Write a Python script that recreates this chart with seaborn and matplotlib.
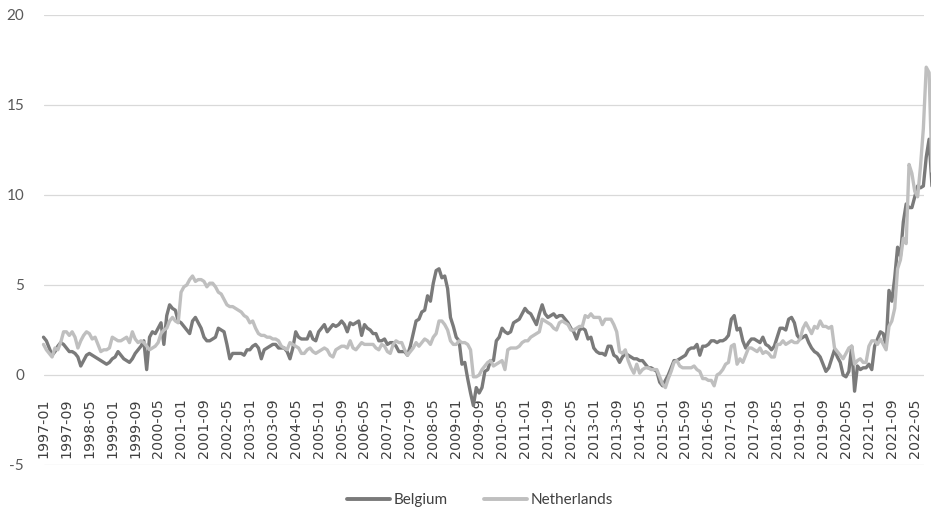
import matplotlib
matplotlib.use("Agg")
import matplotlib.pyplot as plt
import pandas as pd
import seaborn as sns

# monthly annual inflation (%), 1997-01 .. 2022-11, one row per year
belgium = [
    2.1, 1.9, 1.5, 1.1, 1.3, 1.6, 1.8, 1.7, 1.5, 1.3, 1.3, 1.2,
    1.0, 0.5, 0.8, 1.1, 1.2, 1.1, 1.0, 0.9, 0.8, 0.7, 0.6, 0.7,
    0.9, 1.0, 1.3, 1.1, 0.9, 0.8, 0.7, 0.9, 1.2, 1.4, 1.6, 1.9,
    0.3, 2.1, 2.4, 2.3, 2.6, 2.9, 1.7, 3.3, 3.9, 3.7, 3.6, 3.0,
    2.9, 2.7, 2.5, 2.3, 3.0, 3.2, 2.9, 2.6, 2.1, 1.9, 1.9, 2.0,
    2.1, 2.6, 2.5, 2.4, 1.7, 0.9, 1.2, 1.2, 1.2, 1.2, 1.1, 1.4,
    1.4, 1.6, 1.7, 1.5, 0.9, 1.4, 1.5, 1.6, 1.7, 1.7, 1.5, 1.5,
    1.5, 1.3, 0.9, 1.5, 2.4, 2.1, 2.0, 2.0, 2.0, 2.4, 2.0, 1.9,
    2.4, 2.6, 2.8, 2.4, 2.6, 2.8, 2.7, 2.8, 3.0, 2.8, 2.4, 2.9,
    2.8, 2.9, 3.0, 2.2, 2.8, 2.6, 2.5, 2.3, 2.3, 1.9, 1.9, 2.0,
    1.7, 1.8, 1.8, 1.6, 1.3, 1.3, 1.3, 1.1, 1.6, 2.3, 3.0, 3.1,
    3.5, 3.6, 4.4, 4.1, 5.1, 5.8, 5.9, 5.4, 5.5, 4.8, 3.2, 2.7,
    2.1, 1.9, 0.6, 0.7, -0.2, -1.0, -1.7, -0.7, -1.0, -0.7, 0.2, 0.3,
    0.8, 0.8, 1.9, 2.1, 2.6, 2.4, 2.3, 2.4, 2.9, 3.0, 3.1, 3.4,
    3.7, 3.5, 3.4, 3.1, 2.8, 3.4, 3.9, 3.4, 3.2, 3.3, 3.4, 3.2,
    3.3, 3.3, 3.1, 2.9, 2.6, 2.4, 2.0, 2.5, 2.6, 2.5, 2.0, 2.1,
    1.5, 1.3, 1.2, 1.2, 1.1, 1.6, 1.6, 1.1, 1.0, 0.7, 1.0, 1.2,
    1.1, 1.0, 0.9, 0.9, 0.8, 0.8, 0.6, 0.4, 0.4, 0.3, 0.2, -0.4,
    -0.6, -0.3, 0.0, 0.4, 0.8, 0.8, 0.9, 1.0, 1.1, 1.4, 1.5, 1.5,
    1.7, 1.1, 1.6, 1.6, 1.7, 1.9, 1.9, 1.8, 1.9, 1.9, 2.0, 2.2,
    3.1, 3.3, 2.5, 2.6, 1.9, 1.5, 1.8, 2.0, 2.0, 1.9, 1.8, 2.1,
    1.7, 1.6, 1.4, 1.6, 2.1, 2.6, 2.6, 2.5, 3.1, 3.2, 2.9, 2.2,
    2.0, 2.1, 2.2, 1.8, 1.5, 1.3, 1.2, 1.0, 0.6, 0.2, 0.4, 0.9,
    1.4, 1.0, 0.7, 0.0, -0.1, 0.2, 1.6, -0.9, 0.5, 0.3, 0.4, 0.4,
    0.6, 0.3, 1.6, 2.0, 2.4, 2.3, 1.6, 4.7, 4.1, 5.4, 7.1, 6.6,
    8.5, 9.5, 9.3, 9.3, 9.9, 10.5, 10.4, 10.5, 12.1, 13.1, 10.5,
]

netherlands = [
    1.7, 1.4, 1.2, 1.0, 1.5, 1.4, 1.8, 2.4, 2.4, 2.2, 2.4, 2.1,
    1.5, 1.9, 2.2, 2.4, 2.3, 2.0, 2.1, 1.7, 1.3, 1.4, 1.4, 1.5,
    2.1, 2.0, 1.9, 1.9, 2.0, 2.1, 1.8, 2.4, 2.0, 1.8, 1.9, 1.8,
    1.6, 1.4, 1.5, 1.6, 1.8, 2.3, 2.5, 2.6, 3.0, 3.2, 3.0, 2.9,
    4.6, 4.9, 5.0, 5.3, 5.5, 5.2, 5.3, 5.3, 5.2, 4.9, 5.1, 5.1,
    4.9, 4.6, 4.5, 4.2, 3.9, 3.8, 3.8, 3.7, 3.6, 3.5, 3.3, 3.2,
    2.9, 3.0, 2.6, 2.3, 2.2, 2.2, 2.1, 2.1, 2.0, 2.0, 1.9, 1.6,
    1.5, 1.4, 1.8, 1.7, 1.6, 1.5, 1.2, 1.2, 1.4, 1.5, 1.3, 1.2,
    1.3, 1.4, 1.5, 1.4, 1.1, 1.0, 1.4, 1.5, 1.6, 1.6, 1.5, 1.9,
    1.5, 1.4, 1.6, 1.8, 1.7, 1.7, 1.7, 1.7, 1.5, 1.4, 1.7, 1.6,
    1.3, 1.2, 1.7, 1.9, 1.8, 1.8, 1.4, 1.1, 1.3, 1.5, 1.8, 1.6,
    1.8, 2.0, 1.9, 1.7, 2.1, 2.3, 3.0, 3.0, 2.8, 2.5, 1.9, 1.7,
    1.7, 1.9, 1.8, 1.8, 1.7, 1.4, -0.1, -0.1, 0.0, 0.3, 0.5, 0.7,
    0.8, 0.5, 0.6, 0.7, 0.8, 0.3, 1.4, 1.5, 1.5, 1.5, 1.6, 1.8,
    1.9, 1.9, 2.1, 2.2, 2.3, 2.4, 3.1, 3.0, 2.9, 2.8, 2.6, 2.5,
    2.9, 3.0, 2.9, 2.8, 2.5, 2.5, 2.6, 2.7, 2.7, 3.3, 3.2, 3.4,
    3.2, 3.2, 3.2, 2.8, 3.1, 3.1, 3.1, 2.8, 2.4, 1.3, 1.2, 1.4,
    0.8, 0.4, 0.1, 0.6, 0.1, 0.3, 0.4, 0.4, 0.3, 0.3, 0.3, -0.1,
    -0.5, -0.7, -0.2, 0.2, 0.7, 0.8, 0.5, 0.4, 0.4, 0.4, 0.4, 0.5,
    0.3, 0.2, -0.2, -0.2, -0.3, -0.3, -0.6, 0.0, 0.1, 0.3, 0.6, 0.7,
    1.6, 1.7, 0.6, 0.9, 0.7, 1.1, 1.5, 1.5, 1.4, 1.3, 1.5, 1.2,
    1.3, 1.2, 1.0, 1.0, 1.7, 1.7, 1.9, 1.7, 1.8, 1.9, 1.8, 1.8,
    2.0, 2.6, 2.9, 2.6, 2.3, 2.7, 2.6, 3.0, 2.7, 2.7, 2.6, 2.7,
    1.5, 1.3, 1.1, 0.9, 1.2, 1.5, 1.6, 0.6, 0.8, 0.9, 0.7, 0.7,
    1.6, 1.9, 1.9, 1.7, 2.0, 1.7, 1.4, 2.7, 3.0, 3.7, 5.9, 6.4,
    7.6, 7.3, 11.7, 11.2, 10.2, 9.9, 11.6, 13.7, 17.1, 16.8, 11.3,
]

months = pd.date_range("1997-01", periods=len(belgium), freq="MS").strftime("%Y-%m").tolist()
y_ticks = [-5, 0, 5, 10, 15, 20]

df = pd.DataFrame({
    "idx": list(range(len(months))) * 2,
    "value": belgium + netherlands,
    "country": ["Belgium"] * len(belgium) + ["Netherlands"] * len(netherlands),
})

sns.set_theme(style="white")
plt.rcParams["font.family"] = ["Lato", "DejaVu Sans"]

W, H = 931, 516
fig = plt.figure(figsize=(W / 100, H / 100), dpi=100)
x0, px_per_month = 43.5, 2.866
x_right = 307.2
ax = fig.add_axes([x0 / W, (H - 465) / H, x_right * px_per_month / W, 450 / H])

colors = {"Belgium": "#7a7a7a", "Netherlands": "#bfbfbf"}
sns.lineplot(data=df, x="idx", y="value", hue="country", palette=colors,
             linewidth=2.4, legend=False, ax=ax)
for ln in ax.lines:
    ln.set_clip_on(False)
    ln.set_solid_joinstyle("round")

# category axis crosses at 0, like the original chart
ax.spines["bottom"].set_position(("data", 0))
for s in ax.spines.values():
    s.set_visible(False)

ax.set_xlim(0, x_right)
ax.set_ylim(-5, 20)
ax.set_yticks(y_ticks)
ax.set_yticklabels([str(v) for v in y_ticks], fontsize=11, color="#595959")
ax.grid(axis="y", color="#d9d9d9", linewidth=0.9)
ax.grid(axis="x", visible=False)
ax.set_axisbelow(True)

xt = list(range(0, len(months), 8))
ax.set_xticks(xt)
ax.set_xticklabels([months[i] for i in xt], rotation=90, fontsize=10.3,
                   color="#404040", family="DejaVu Sans")
ax.tick_params(axis="x", length=0, pad=17)
ax.tick_params(axis="y", length=0, pad=14)
ax.set_xlabel("")
ax.set_ylabel("")

handles = [plt.Line2D([], [], color=colors[k], linewidth=2.8) for k in ["Belgium", "Netherlands"]]
fig.legend(handles, ["Belgium", "Netherlands"], loc="center",
           bbox_to_anchor=(480 / W, 1 - 500 / H), ncol=2, frameon=False,
           fontsize=11, handlelength=2.8, handletextpad=0.25, columnspacing=2.4,
           labelcolor="#404040")

fig.savefig("out.png", dpi=100)
